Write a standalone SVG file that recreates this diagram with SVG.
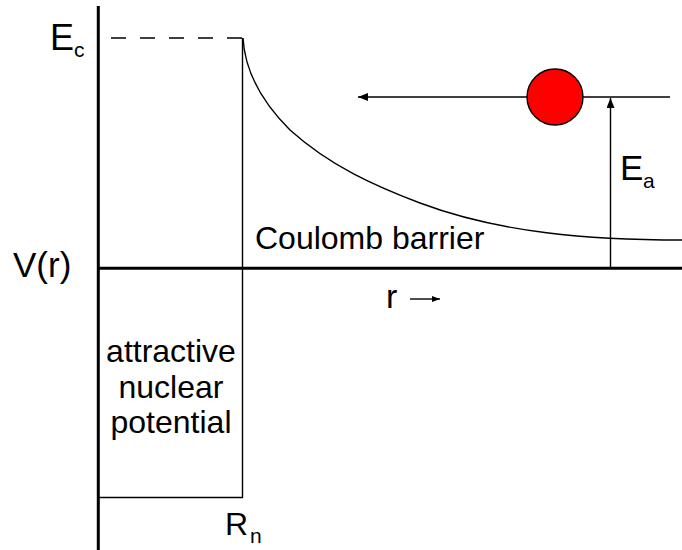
<svg xmlns="http://www.w3.org/2000/svg" width="682" height="550" viewBox="0 0 682 550">
<style>
text{font-family:"Liberation Sans",Arial,sans-serif;fill:#000}
.big{font-size:35px}
.txt{font-size:32px}
.sub{font-size:21px}
.thin{fill:none;stroke:#000;stroke-width:1.4}
.axis{fill:none;stroke:#000;stroke-width:3}
</style>
<defs>
<marker id="ah" viewBox="0 0 10 8" refX="10" refY="4" markerWidth="10" markerHeight="8" markerUnits="userSpaceOnUse" orient="auto">
<path d="M0,0 L10,4 L0,8 z" fill="#000"/>
</marker>
<marker id="ahs" viewBox="0 0 8 6" refX="8" refY="3" markerWidth="8" markerHeight="6" markerUnits="userSpaceOnUse" orient="auto">
<path d="M0,0 L8,3 L0,6 z" fill="#000"/>
</marker>
</defs>
<g id="axes">
<line class="axis" x1="98.3" y1="6" x2="98.3" y2="550"/>
<line class="axis" x1="98.3" y1="268.3" x2="682" y2="268.3"/>
</g>
<g id="connectors">
<line class="thin" x1="111" y1="38" x2="242" y2="38" stroke-dasharray="15 14" stroke-width="1.6"/>
<polyline class="thin" points="98,497.5 242.5,497.5 242.5,38"/>
<path class="thin" d="M243,38 C245,75 265,105 290,130 C330,166 375,186 420,203 C500,233 590,240 682,240"/>
<line class="thin" x1="670" y1="97" x2="358" y2="97" marker-end="url(#ah)"/>
<line class="thin" x1="610.5" y1="268" x2="610.5" y2="98" marker-end="url(#ah)"/>
<line class="thin" x1="410" y1="299" x2="440" y2="299" marker-end="url(#ahs)"/>
</g>
<g id="particle">
<circle cx="555" cy="97" r="28" fill="#ff0000" stroke="#000" stroke-width="1.4"/>
</g>
<g id="labels">
<text x="50" y="50" font-size="36">E</text><text class="sub" x="74" y="57">c</text>
<text class="big" x="13" y="277">V(r)</text>
<text class="txt" x="255" y="249">Coulomb barrier</text>
<text x="386" y="308" font-size="34">r</text>
<text class="big" x="620" y="180">E</text><text class="sub" x="643" y="188">a</text>
<text class="txt" x="225" y="535">R</text><text class="sub" x="250" y="543">n</text>
<g text-anchor="middle" class="txt">
<text x="171" y="362">attractive</text>
<text x="171" y="398">nuclear</text>
<text x="171" y="433">potential</text>
</g>
</g>
</svg>
